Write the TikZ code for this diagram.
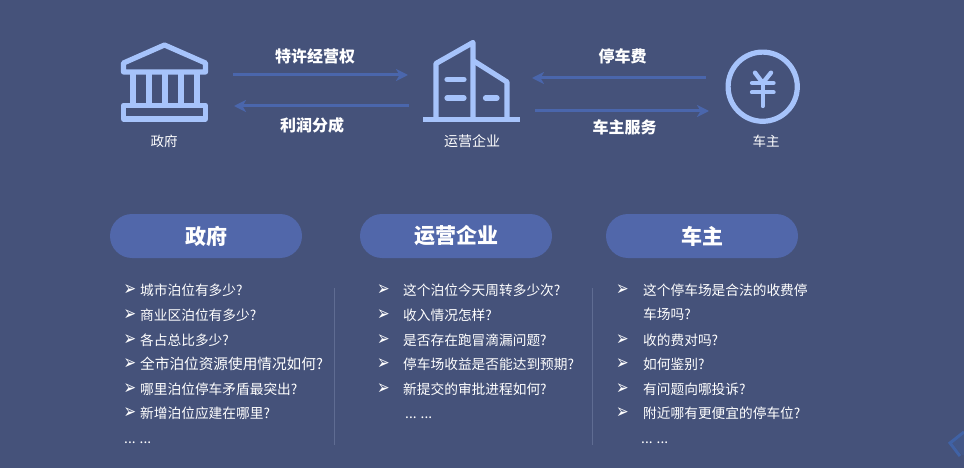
\documentclass[tikz,border=0pt]{standalone}
\usepackage{fontspec}
\setmainfont{Noto Sans CJK SC}
\newfontfamily\djv{DejaVu Sans}
\usetikzlibrary{arrows.meta}
\definecolor{bgc}{HTML}{45527A}
\definecolor{iconc}{HTML}{A6C3FB}
\definecolor{arrc}{HTML}{4A66AC}
\definecolor{pillc}{HTML}{5167AA}
\definecolor{divc}{HTML}{5F6C92}
\definecolor{markc}{HTML}{3F66B0}
\newcommand{\fs}[1]{\fontsize{#1}{#1}\selectfont}
\newcommand{\chev}{\scalebox{1}[1.35]{➢}}
\tikzset{
  x=1pt,y=-1pt,
  icon/.style={draw=iconc,line width=5.2pt,line join=round,line cap=round},
  flow/.style={draw=arrc,line width=3pt,-{Stealth[length=12pt,width=12pt,inset=3.5pt]}},
  toplabel/.style={text=white,font=\fs{16}\bfseries,inner sep=0pt},
  iconlabel/.style={text=white,font=\fs{13.5},inner sep=0pt},
  pill/.style={fill=pillc,rounded corners=22pt,minimum width=192pt,minimum height=44pt,inner sep=0pt,text=white,font=\fs{21}\bfseries},
  item/.style={text=white,font=\fs{13.7},anchor=west,inner sep=0pt},
  bul/.style={text=white,font=\djv\fs{15},anchor=west,inner sep=0pt,yshift=-0.5pt},
  dots/.style={text=white,font=\fs{13.7},anchor=west,inner sep=0pt,yshift=-2.5pt},
  divider/.style={draw=divc,line width=1pt}
}
\begin{document}
\begin{tikzpicture}
\fill[bgc] (0,0) rectangle (964,468);
\useasboundingbox (0,0) rectangle (964,468);
% corner mark
\fill[markc,opacity=.25] (964,434) -- (952,443) -- (962,455) -- (964,455) -- cycle;
\draw[line width=3pt,draw=markc,opacity=.8] (964,432) -- (950,443) -- (960,456);
% government icon
\draw[icon] (123.5,63) -- (164.5,45) -- (205.5,63) -- (205.5,72) -- (123.5,72) -- cycle;
\foreach \cx in {133,149,165,181,197}{\draw[icon,line cap=butt] (\cx,72) -- (\cx,105);}
\draw[icon] (123.5,105.5) rectangle (205.5,119);
% building icon
\draw[draw=iconc,line width=5pt] (423,120) -- (520,120);
\draw[icon,line cap=butt] (436,120) -- (436,63.5) -- (473,42.5) -- (473,120);
\draw[icon,line cap=butt] (473,60.5) -- (507,82) -- (507,120);
\draw[icon] (447,79.5) -- (464,79.5);
\draw[icon] (447,98) -- (464,98);
\draw[icon] (485.5,98) -- (497,98);
% coin icon
\draw[icon] (762.7,86.7) circle (34.6);
\draw[icon,line width=4.4pt] (755,72.7) -- (762.7,83) -- (771,72.7);
\draw[icon,line width=4.4pt] (752,83) -- (773.5,83);
\draw[icon,line width=4.4pt] (752,92.3) -- (773.5,92.3);
\draw[icon,line width=4.4pt] (762.7,83) -- (762.7,106);
% anchors
\coordinate (a1s) at (233,75);   \coordinate (a1e) at (408,75);
\coordinate (a2s) at (409,106);  \coordinate (a2e) at (234,106);
\coordinate (a3s) at (706,78);   \coordinate (a3e) at (532,78);
\coordinate (a4s) at (535,111);  \coordinate (a4e) at (709,111);
\draw[flow] (a1s) -- (a1e);
\draw[flow] (a2s) -- (a2e);
\draw[flow] (a3s) -- (a3e);
\draw[flow] (a4s) -- (a4e);
% top labels
\node[toplabel] (l1) at (315,56) {特许经营权};
\node[toplabel] (l2) at (312,125) {利润分成};
\node[toplabel] (l3) at (622.5,56) {停车费};
\node[toplabel] (l4) at (624.5,127) {车主服务};
\node[iconlabel] (n1) at (164,141) {政府};
\node[iconlabel,font=\fs{14}] (n2) at (472,141) {运营企业};
\node[iconlabel] (n3) at (766,141) {车主};
% pills
\node[pill] (p1) at (206,236) {\raisebox{-0.7pt}{政府}};
\node[pill] (p2) at (456,236) {\raisebox{-0.7pt}{运营企业}};
\node[pill] (p3) at (702,236) {\raisebox{-0.7pt}{车主}};
% dividers
\coordinate (d1t) at (334.5,288); \coordinate (d1b) at (334.5,445);
\coordinate (d2t) at (592.5,288); \coordinate (d2b) at (592.5,445);
\draw[divider] (d1t) -- (d1b);
\draw[divider] (d2t) -- (d2b);
% column 1
\foreach \y in {290,315,340,364,389,413}{\node[bul] at (123.5,\y) {\chev};}
\node[item] at (140,290) {城市泊位有多少?};
\node[item] at (140,315) {商业区泊位有多少?};
\node[item] at (140,340) {各占总比多少?};
\node[item,font=\fs{14.65}] at (140,364) {全市泊位资源使用情况如何?};
\node[item] at (140,389) {哪里泊位停车矛盾最突出?};
\node[item] at (140,413) {新增泊位应建在哪里?};
\node[dots] at (124,440) {... ...};
% column 2
\foreach \y in {290,315,340,364,389}{\node[bul] at (377,\y) {\chev};}
\node[item] at (403,290) {这个泊位今天周转多少次?};
\node[item] at (403,315) {收入情况怎样?};
\node[item] at (403,340) {是否存在跑冒滴漏问题?};
\node[item] at (403,364) {停车场收益是否能达到预期?};
\node[item] at (403,389) {新提交的审批进程如何?};
\node[dots] at (405,415) {... ...};
% column 3
\foreach \y in {290,340,364,389,413}{\node[bul] at (616,\y) {\chev};}
\node[item] at (643,290) {这个停车场是合法的收费停};
\node[item] at (643,314) {车场吗?};
\node[item] at (643,340) {收的费对吗?};
\node[item] at (643,364) {如何鉴别?};
\node[item] at (643,389) {有问题向哪投诉?};
\node[item] at (643,413) {附近哪有更便宜的停车位?};
\node[dots] at (641,440) {... ...};
\end{tikzpicture}
\end{document}
